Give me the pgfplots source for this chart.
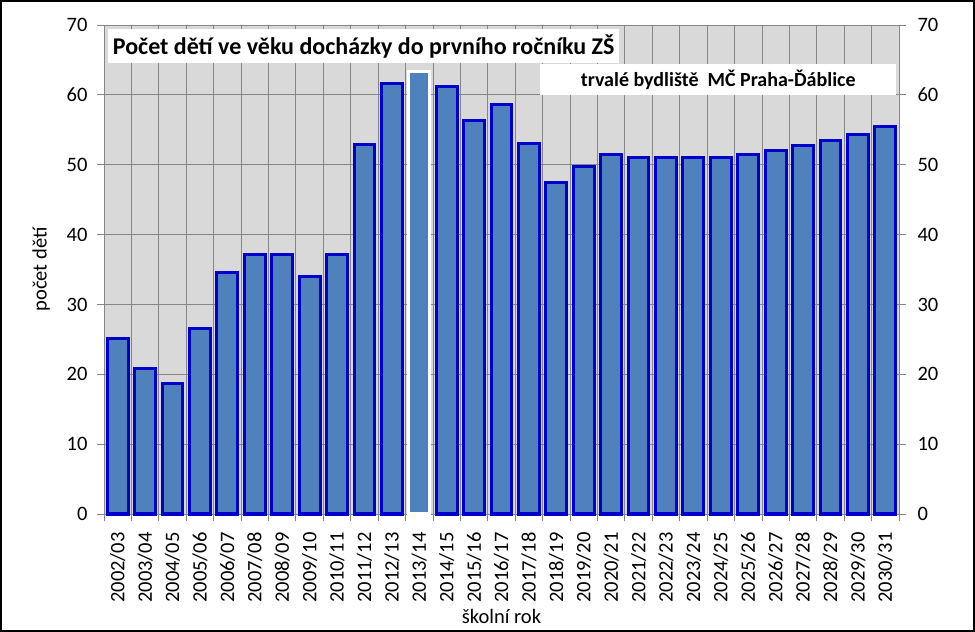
\documentclass[border=0pt]{standalone}
\usepackage{pgfplots}
\pgfplotsset{compat=1.18}
\usepackage{fontspec}
\setmainfont{Carlito}
\definecolor{bgray}{HTML}{D9D9D9}
\definecolor{ggray}{HTML}{868686}
\definecolor{barfill}{HTML}{4F81BD}
\definecolor{barline}{HTML}{0000CC}
\pgfplotstableread{
x y
0 25.1
1 20.8
2 18.7
3 26.5
4 34.5
5 37.1
6 37.1
7 34.0
8 37.1
9 52.9
10 61.6
12 61.2
13 56.3
14 58.6
15 53.0
16 47.5
17 49.8
18 51.4
19 51.1
20 51.0
21 51.0
22 51.1
23 51.5
24 52.0
25 52.7
26 53.5
27 54.3
28 55.5
}\mainbars
\pgfplotstableread{
x y
11 63.4
}\hibar
\newcommand{\lblfont}{\fontsize{20.5bp}{22bp}\selectfont}
\begin{document}
\begin{tikzpicture}
\path[use as bounding box] (0bp,0bp) rectangle (975bp,632bp);
\draw[black, line width=2bp] (1bp,1bp) rectangle (974bp,631bp);
\begin{axis}[
  at={(104bp,118bp)}, anchor=south west,
  scale only axis, width=795bp, height=489bp,
  xmin=-0.5, xmax=28.5, ymin=0, ymax=70,
  /pgf/number format/assume math mode=true,
  axis background/.style={fill=bgray},
  axis line style={ggray, line width=0.8bp},
  xtick={-0.5,0.5,...,28.5},
  x tick label as interval,
  xticklabels={2002/03,2003/04,2004/05,2005/06,2006/07,2007/08,2008/09,2009/10,2010/11,2011/12,2012/13,2013/14,2014/15,2015/16,2016/17,2017/18,2018/19,2019/20,2020/21,2021/22,2022/23,2023/24,2024/25,2025/26,2026/27,2027/28,2028/29,2029/30,2030/31},
  xticklabel style={rotate=90, anchor=east, font=\lblfont, xshift=-8bp, yshift=0bp},
  ytick={0,10,...,70},
  ytick pos=left, xtick pos=bottom,
  tick align=outside,
  major tick length=7bp,
  tick style={ggray, line width=0.8bp},
  yticklabel style={font=\lblfont, xshift=-6bp},
  grid=major,
  major grid style={ggray, line width=0.8bp},
  xlabel={školní rok},
  ylabel={počet dětí},
  xlabel style={font=\lblfont, yshift=0bp},
  ylabel style={font=\lblfont, yshift=10bp},
  clip=false,
]
\addplot[ybar, bar shift=0pt, bar width=0.76, fill=barfill, draw=barline, line width=3bp] table[x=x,y=y] {\mainbars};
\addplot[ybar, bar shift=0pt, bar width=0.76, fill=barfill, draw=white, line width=3bp] table[x=x,y=y] {\hibar};
\node[anchor=north west, fill=white, inner xsep=5bp, minimum height=34bp, font=\fontsize{24bp}{26bp}\selectfont\bfseries] at (rel axis cs:0.0047,0.992) {Počet dětí ve věku docházky do prvního ročníku ZŠ};
\node[anchor=north west, fill=white, minimum width=356bp, minimum height=31bp, font=\fontsize{20bp}{22bp}\selectfont\bfseries] at (rel axis cs:0.5484,0.9202) {trvalé bydliště\ \ MČ Praha-Ďáblice};
\end{axis}
\begin{axis}[
  at={(104bp,118bp)}, anchor=south west,
  scale only axis, width=795bp, height=489bp,
  xmin=-0.5, xmax=28.5, ymin=0, ymax=70,
  /pgf/number format/assume math mode=true,
  axis x line=none,
  axis y line*=right,
  axis line style={ggray, line width=0.8bp},
  ytick={0,10,...,70},
  tick align=outside,
  major tick length=7bp,
  tick style={ggray, line width=0.8bp},
  yticklabel style={font=\lblfont, xshift=8bp},
]
\end{axis}
\end{tikzpicture}
\end{document}
